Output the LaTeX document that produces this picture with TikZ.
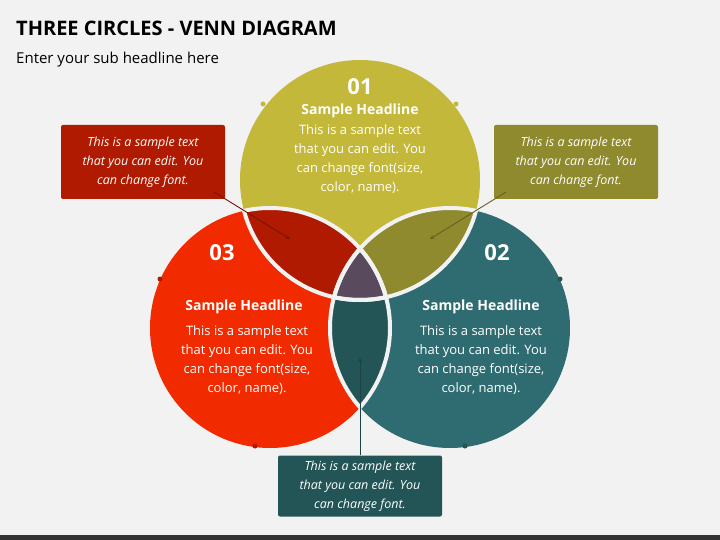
\documentclass[tikz,border=0pt]{standalone}
\usepackage{fontspec}
\setmainfont{Open Sans}
\begin{document}
\begin{tikzpicture}[x=1pt,y=-1pt,
  txt/.style={text=white,align=center,font=\fontsize{13}{19.3}\selectfont,inner sep=0},
  hd/.style={text=white,font=\bfseries\fontsize{14}{16}\selectfont,inner sep=0},
  num/.style={text=white,font=\bfseries\fontsize{22}{24}\selectfont,inner sep=0},
  box/.style={align=center,text=white,font=\itshape\fontsize{12.5}{19}\selectfont,minimum width=164pt,minimum height=74pt,inner sep=2pt,rounded corners=2pt},
  dot/.style={circle,fill=#1,minimum size=5pt,inner sep=0},
  arr/.style={-stealth,line width=0.9pt,draw=#1}]
\definecolor{bg}{HTML}{F2F2F2}
\definecolor{cy}{HTML}{C3B83A}
\definecolor{cr}{HTML}{F12A00}
\definecolor{ct}{HTML}{2F6C71}
\definecolor{cyr}{HTML}{B01A00}
\definecolor{cyt}{HTML}{8F8A2E}
\definecolor{crt}{HTML}{235456}
\definecolor{call}{HTML}{5A4A5E}
\useasboundingbox (0,0) rectangle (720,540);
\fill[bg] (0,0) rectangle (720,540);
\fill[black!80] (0,535) rectangle (720,540);
\node[anchor=west,inner sep=0,font=\bfseries\fontsize{20}{22}\selectfont] (title) at (16,28) {THREE CIRCLES - VENN DIAGRAM};
\node[anchor=west,inner sep=0,font=\fontsize{15}{17}\selectfont] (sub) at (16,60) {Enter your sub headline here};
\def\CY{(360,180) circle (120)}
\def\CR{(270,328) circle (120)}
\def\CT{(450,328) circle (120)}
\fill[cy] \CY; \fill[cr] \CR; \fill[ct] \CT;
\begin{scope}\clip \CY; \fill[cyr] \CR; \fill[cyt] \CT; \end{scope}
\begin{scope}\clip \CR; \fill[crt] \CT; \end{scope}
\begin{scope}\clip \CY; \clip \CR; \fill[call] \CT; \end{scope}
\begin{scope}\clip \CY; \draw[bg,line width=4pt] \CR \CT; \end{scope}
\begin{scope}\clip \CR; \draw[bg,line width=4pt] \CT \CY; \end{scope}
\begin{scope}\clip \CT; \draw[bg,line width=4pt] \CR \CY; \end{scope}
\node[dot=cy] (d1) at (263,104) {}; \node[dot=cy] (d2) at (456,104) {};
\node[dot=cyr] (d3) at (160,279) {}; \node[dot=cyr] (d4) at (255,446) {};
\node[dot=crt] (d5) at (560,279) {}; \node[dot=crt] (d6) at (465,446) {};
\node[num] (n1) at (360,87) {01};
\node[hd] (h1) at (360,111) {Sample Headline};
\node[txt,anchor=north] (t1) at (360,124) {This is a sample text\\that you can edit. You\\can change font(size,\\color, name).};
\node[num] (n3) at (222,253) {03};
\node[hd] (h3) at (244,307) {Sample Headline};
\node[txt,anchor=north] (t3) at (247,325) {This is a sample text\\that you can edit. You\\can change font(size,\\color, name).};
\node[num] (n2) at (497,253) {02};
\node[hd] (h2) at (481,307) {Sample Headline};
\node[txt,anchor=north] (t2) at (481,325) {This is a sample text\\that you can edit. You\\can change font(size,\\color, name).};
\node[box,fill=cyr] (b1) at (143,162) {This is a sample text\\that you can edit. You\\can change font.};
\node[box,fill=cyt] (b2) at (576,162) {This is a sample text\\that you can edit. You\\can change font.};
\node[box,fill=crt,minimum height=61pt] (b3) at (360,486) {This is a sample text\\that you can edit. You\\can change font.};
\coordinate (p1) at (290,239); \coordinate (p2) at (430,239); \coordinate (p3) at (360,358);
\coordinate (s1) at (214,192); \coordinate (s2) at (506,192);
\draw[arr=cyr!70!black] (s1) -- (p1);
\draw[arr=cyt!70!black] (s2) -- (p2);
\draw[arr=crt!80!black] (b3.north) -- (p3);
\end{tikzpicture}
\end{document}
